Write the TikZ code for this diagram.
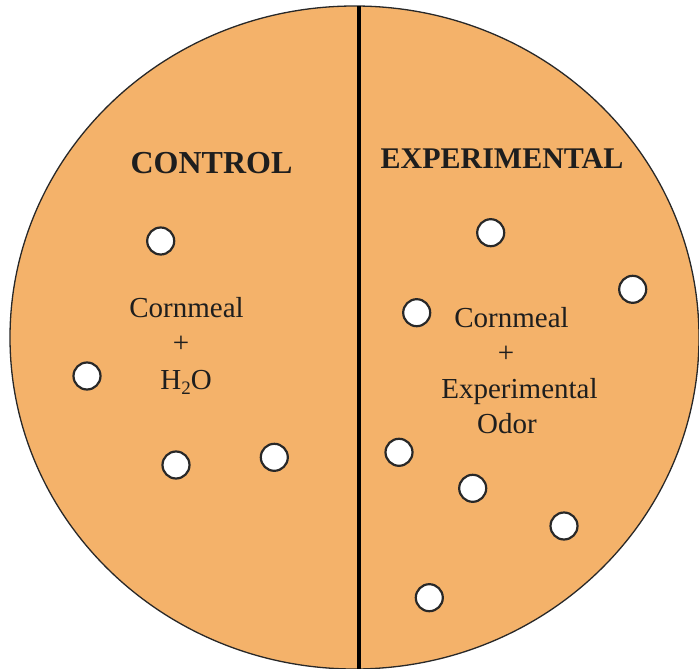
\documentclass[tikz,border=0pt]{standalone}
\usepackage{fontspec}
\setmainfont{Liberation Serif}
\definecolor{dish}{RGB}{244,178,106}
\definecolor{rim}{RGB}{40,40,40}
\definecolor{ink}{RGB}{30,30,30}
\begin{document}
\begin{tikzpicture}[x=1pt,y=-1pt,
  hole/.style={circle,draw=rim,line width=2.2pt,fill=white,minimum size=27pt,inner sep=0pt},
  title/.style={font=\fontsize{30}{36}\selectfont\bfseries,text=ink,anchor=base,inner sep=0pt},
  body/.style={font=\fontsize{29}{35}\selectfont,text=ink,anchor=base,inner sep=0pt}]
\useasboundingbox (0,0) rectangle (699,669);
\fill[white] (0,0) rectangle (699,669);
\draw[rim,line width=1.3pt,fill=dish] (354.5,337.5) ellipse [x radius=344.5pt, y radius=331.5pt];
\coordinate (top) at (359,6);
\coordinate (bot) at (359,669);
\draw[black,line width=4.8pt] (top) -- (bot);
% titles
\node[title,font=\fontsize{32}{38}\selectfont\bfseries] (tc) at (211.5,173) {CONTROL};
\node[title] (te) at (502,168) {EXPERIMENTAL};
% control text
\node[body] (c1) at (186.5,317) {Cornmeal};
\node[body] (c2) at (181,352) {+};
\node[body] (c3) at (186,389) {H\raisebox{-0.45ex}{\fontsize{19}{19}\selectfont 2}O};
% experimental text
\node[body] (e1) at (511.5,327) {Cornmeal};
\node[body] (e2) at (506,362) {+};
\node[body] (e3) at (519.5,398) {Experimental};
\node[body] (e4) at (507,433) {Odor};
% control holes
\node[hole] (h1) at (160.7,241) {};
\node[hole] (h2) at (87,376) {};
\node[hole] (h3) at (176,465) {};
\node[hole] (h4) at (274.3,457.3) {};
% experimental holes
\node[hole] (h5) at (490.7,232.7) {};
\node[hole] (h6) at (632.7,289.3) {};
\node[hole] (h7) at (416.7,312.7) {};
\node[hole] (h8) at (399,452.3) {};
\node[hole] (h9) at (472.7,488.3) {};
\node[hole] (h10) at (564,526) {};
\node[hole] (h11) at (429.3,597.7) {};
\end{tikzpicture}
\end{document}
